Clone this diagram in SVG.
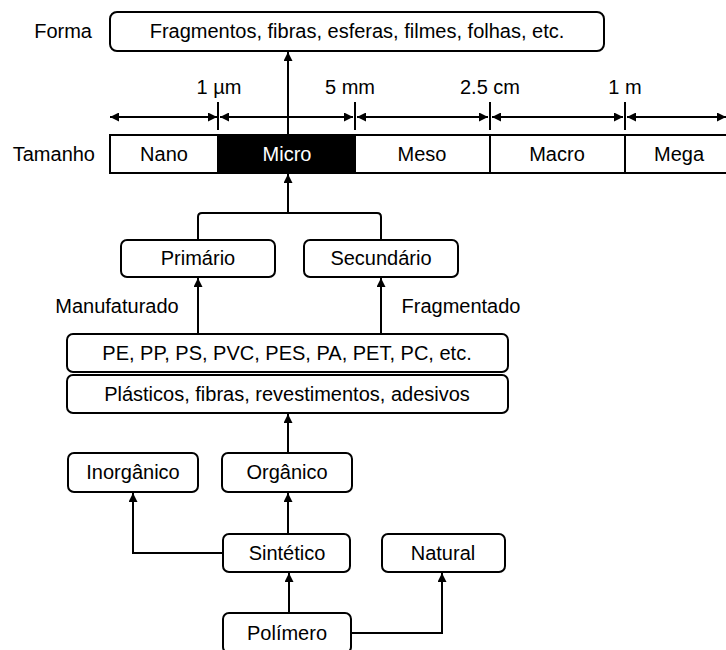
<svg xmlns="http://www.w3.org/2000/svg" width="726" height="650" viewBox="0 0 726 650">
  <defs>
    <marker id="ah" viewBox="0 0 10 10" refX="10" refY="5" markerWidth="9" markerHeight="9" markerUnits="userSpaceOnUse" orient="auto-start-reverse">
      <path d="M0,0 L10,5 L0,10 Z" fill="#000"/>
    </marker>
    <style>
      .box { fill: #fff; stroke: #000; stroke-width: 2; }
      .cell { fill: #fff; stroke: #000; stroke-width: 2; }
      .dark { fill: #000; stroke: #000; stroke-width: 2; }
      .t { font-family: "Liberation Sans", Arial, sans-serif; font-size: 20px; fill: #000; text-anchor: middle; dominant-baseline: central; }
      .tw { fill: #fff; }
      .te { text-anchor: end; }
      .ln { fill: none; stroke: #000; stroke-width: 2; }
      .arr { fill: none; stroke: #000; stroke-width: 2; marker-end: url(#ah); }
      .dbl { fill: none; stroke: #000; stroke-width: 2; marker-start: url(#ah); marker-end: url(#ah); }
    </style>
  </defs>

  <rect width="726" height="650" fill="#fff"/>

  <!-- side labels -->
  <text class="t te" x="92" y="31">Forma</text>
  <text class="t te" x="95" y="154">Tamanho</text>

  <!-- shape box -->
  <g id="forma">
    <rect class="box" x="110" y="12" width="494" height="39" rx="7"/>
    <text class="t" x="357" y="31">Fragmentos, fibras, esferas, filmes, folhas, etc.</text>
  </g>

  <!-- size scale -->
  <g id="tamanho">
    <rect class="cell" x="110" y="135" width="108" height="38"/>
    <rect class="dark" x="218" y="135" width="137" height="38"/>
    <rect class="cell" x="355" y="135" width="135" height="38"/>
    <rect class="cell" x="490" y="135" width="135" height="38"/>
    <rect class="cell" x="625" y="135" width="110" height="38"/>
    <text class="t" x="164" y="154">Nano</text>
    <text class="t tw" x="287" y="154">Micro</text>
    <text class="t" x="422" y="154">Meso</text>
    <text class="t" x="557" y="154">Macro</text>
    <text class="t" x="679" y="154">Mega</text>
  </g>

  <!-- scale limits -->
  <g id="limites">
    <text class="t" x="219" y="87">1 µm</text>
    <text class="t" x="350" y="87">5 mm</text>
    <text class="t" x="490" y="87">2.5 cm</text>
    <text class="t" x="625" y="87">1 m</text>
  </g>

  <g id="primario">
    <rect class="box" x="121" y="240" width="154" height="37" rx="6"/>
    <text class="t" x="198" y="258">Primário</text>
  </g>
  <g id="secundario">
    <rect class="box" x="304" y="240" width="154" height="37" rx="6"/>
    <text class="t" x="381" y="258">Secundário</text>
  </g>

  <text class="t" x="117" y="306">Manufaturado</text>
  <text class="t" x="461" y="306">Fragmentado</text>

  <g id="tipos">
    <rect class="box" x="67" y="334" width="441" height="38" rx="6"/>
    <text class="t" x="287" y="353">PE, PP, PS, PVC, PES, PA, PET, PC, etc.</text>
  </g>
  <g id="produtos">
    <rect class="box" x="67" y="375" width="441" height="38" rx="6"/>
    <text class="t" x="287" y="394">Plásticos, fibras, revestimentos, adesivos</text>
  </g>

  <g id="inorganico">
    <rect class="box" x="68" y="453" width="130" height="39" rx="6"/>
    <text class="t" x="133" y="472">Inorgânico</text>
  </g>
  <g id="organico">
    <rect class="box" x="222" y="453" width="130" height="39" rx="6"/>
    <text class="t" x="287" y="472">Orgânico</text>
  </g>
  <g id="sintetico">
    <rect class="box" x="223" y="534" width="127" height="38" rx="6"/>
    <text class="t" x="287" y="553">Sintético</text>
  </g>
  <g id="natural">
    <rect class="box" x="382" y="534" width="123" height="38" rx="6"/>
    <text class="t" x="443" y="553">Natural</text>
  </g>
  <g id="polimero">
    <rect class="box" x="223" y="613" width="128" height="40" rx="6"/>
    <text class="t" x="287" y="633">Polímero</text>
  </g>

  <g id="conectores">
    <!-- range arrows -->
    <line class="dbl" x1="110" y1="117" x2="217" y2="117"/>
    <line class="dbl" x1="220" y1="117" x2="353" y2="117"/>
    <line class="dbl" x1="357" y1="117" x2="488" y2="117"/>
    <line class="dbl" x1="492" y1="117" x2="623" y2="117"/>
    <line class="dbl" x1="627" y1="117" x2="726" y2="117"/>
    <!-- ticks -->
    <line class="ln" x1="218" y1="102" x2="218" y2="130"/>
    <line class="ln" x1="355" y1="102" x2="355" y2="130"/>
    <line class="ln" x1="490" y1="102" x2="490" y2="130"/>
    <line class="ln" x1="625" y1="102" x2="625" y2="130"/>
    <!-- micro to shape -->
    <line class="arr" x1="288" y1="135" x2="288" y2="52"/>
    <!-- bracket to micro -->
    <path class="ln" d="M198,240 V217 Q198,213 202,213 H377 Q381,213 381,217 V240"/>
    <line class="arr" x1="288" y1="213" x2="288" y2="174"/>
    <!-- types to origins -->
    <line class="arr" x1="198" y1="334" x2="198" y2="278"/>
    <line class="arr" x1="381" y1="334" x2="381" y2="278"/>
    <!-- organic to products -->
    <line class="arr" x1="288" y1="453" x2="288" y2="414"/>
    <!-- synthetic branches -->
    <line class="arr" x1="288" y1="534" x2="288" y2="493"/>
    <path class="arr" d="M223,553 H133 V493"/>
    <!-- polymer branches -->
    <line class="arr" x1="289" y1="613" x2="289" y2="573"/>
    <path class="arr" d="M351,633 H442 V573"/>
  </g>
</svg>
